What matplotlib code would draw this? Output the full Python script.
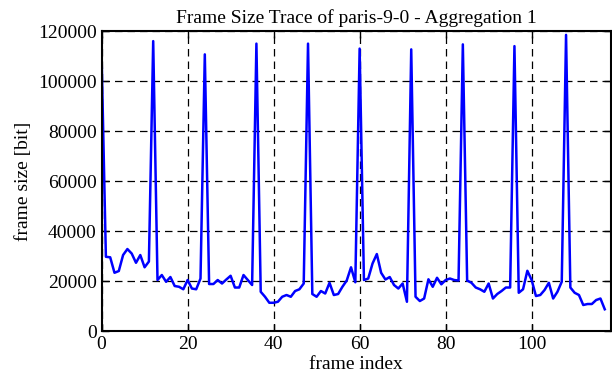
import matplotlib
matplotlib.use('Agg')
import matplotlib.pyplot as plt

# frame sizes in bit, aggregation 1
frame_size = [
    110000, 29700, 29500, 23300, 24000, 30400, 32800, 31000, 27300, 30400,
    25500, 27800, 116000, 20400, 22400, 19700, 21600, 18000, 17700, 16700,
    20400, 17000, 16700, 21000, 110700, 18800, 18800, 20400, 19000, 20600,
    22100, 17400, 17400, 22400, 20400, 18400, 115000, 15700, 13700, 11300,
    11300, 11700, 13700, 14400, 13700, 16000, 16700, 19000, 115000, 14800,
    13700, 16000, 15000, 19300, 14400, 14800, 17700, 20200, 25500, 19500,
    113000, 20400, 21000, 27000, 30800, 23300, 20600, 21600, 18400, 17000,
    19000, 11700, 112700, 13700, 12000, 13000, 20700, 17700, 21300, 18700,
    20400, 21000, 20400, 20200, 114700, 20200, 19300, 17400, 16700, 15700,
    19000, 13000, 14800, 16000, 17400, 17400, 114000, 15300, 16700, 24100,
    20400, 14000, 14400, 16400, 19300, 13000, 15700, 19700, 118500, 17400,
    15300, 14400, 10400, 10800, 10800, 12400, 13000, 8700,
]
frame_idx = list(range(len(frame_size)))

xticks = [0, 20, 40, 60, 80, 100]
yticks = [0, 20000, 40000, 60000, 80000, 100000, 120000]

plt.rcParams['font.family'] = ['Liberation Serif', 'DejaVu Serif']

fig = plt.figure(figsize=(6.12, 3.82), dpi=100)
ax = fig.add_axes([0.166, 0.1335, 0.832, 0.785])

ax.plot(frame_idx, frame_size, color='#0000ff', linewidth=1.8)

ax.set_xlim(0, 118.4)
ax.set_ylim(0, 120000)
ax.set_xticks(xticks)
ax.set_yticks(yticks)
ax.tick_params(direction='in', length=5, width=1, top=True, right=True, labelsize=14)
ax.grid(True, color='black', linestyle=(0, (6, 4)), linewidth=0.9)
for s in ax.spines.values():
    s.set_linewidth(1.5)

ax.set_title('Frame Size Trace of paris-9-0 - Aggregation 1', fontsize=14, pad=6)
ax.set_xlabel('frame index', fontsize=14, labelpad=2)
ax.set_ylabel('frame size [bit]', fontsize=14, labelpad=4)

fig.savefig('out.png', dpi=100)
